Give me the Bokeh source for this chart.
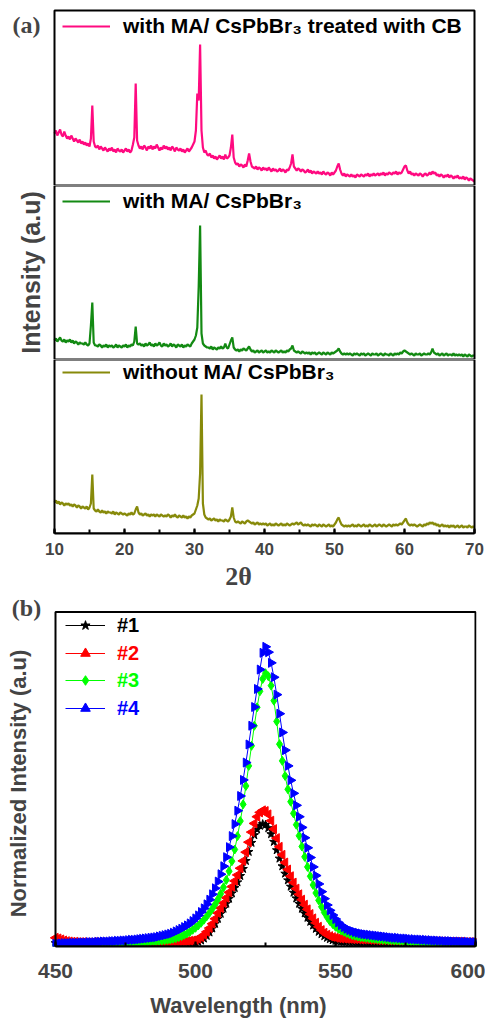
import math
from bokeh.plotting import figure
from bokeh.layouts import column
from bokeh.models import (Range1d, Legend, LegendItem, Label,
                          SingleIntervalTicker, BoxAnnotation)
from bokeh.embed import file_html
from bokeh.resources import INLINE

# ---------------- data: XRD (panel a) ----------------
two_theta = [round(10 + 0.2 * i, 1) for i in range(301)]

xrd_cb = [
    52, 55, 50, 53, 56, 51, 49, 54, 50, 47,
    49, 46, 50, 47, 44, 47, 45, 43, 46, 42,
    44, 41, 43, 40, 42, 39, 47, 80, 44, 39,
    38, 40, 36, 39, 37, 35, 38, 36, 34, 37,
    35, 38, 34, 36, 33, 37, 35, 34, 36, 33,
    35, 37, 34, 36, 33, 35, 41, 48, 102, 45,
    40, 37, 39, 36, 40, 38, 35, 39, 37, 40,
    36, 39, 37, 41, 38, 35, 38, 36, 40, 37,
    39, 36, 38, 35, 39, 37, 34, 38, 36, 35,
    37, 34, 36, 33, 35, 37, 34, 36, 38, 41,
    44, 55, 92, 85, 141, 55, 38, 33, 35, 31,
    30, 32, 28, 30, 27, 29, 26, 28, 30, 27,
    29, 26, 31, 27, 28, 30, 38, 51, 28, 23,
    21, 22, 19, 21, 20, 18, 21, 19, 25, 32,
    24, 19, 18, 17, 19, 16, 18, 17, 15, 18,
    16, 17, 15, 18, 16, 14, 17, 15, 16, 14,
    15, 17, 14, 16, 15, 13, 16, 15, 18, 22,
    31, 19, 17, 15, 17, 16, 14, 16, 15, 13,
    14, 16, 13, 15, 12, 14, 13, 12, 14, 12,
    13, 11, 14, 12, 11, 13, 12, 10, 13, 11,
    13, 15, 19, 22, 16, 12, 10, 12, 9, 11,
    10, 9, 11, 9, 10, 8, 11, 10, 9, 11,
    10, 9, 11, 10, 12, 9, 11, 10, 12, 10,
    11, 12, 10, 12, 11, 13, 10, 12, 11, 13,
    12, 11, 13, 12, 14, 11, 13, 12, 13, 16,
    19, 20, 15, 12, 14, 11, 12, 10, 12, 11,
    10, 12, 11, 9, 11, 12, 10, 11, 13, 11,
    14, 12, 13, 10, 11, 9, 11, 10, 8, 10,
    9, 11, 8, 10, 9, 7, 9, 8, 10, 7,
    8, 7, 9, 6, 8, 7, 5, 7, 6, 5,
    4,
]

xrd_ma = [
    19, 21, 18, 20, 22, 19, 18, 20, 17, 19,
    18, 20, 17, 19, 16, 18, 17, 15, 17, 16,
    16, 15, 17, 15, 14, 16, 34, 57, 17, 14,
    14, 13, 15, 14, 12, 14, 13, 15, 12, 14,
    13, 14, 12, 13, 15, 12, 14, 13, 12, 14,
    13, 15, 12, 14, 13, 15, 14, 18, 33, 16,
    15, 16, 14, 15, 13, 16, 14, 15, 17, 14,
    15, 13, 16, 14, 15, 17, 14, 13, 16, 14,
    15, 13, 14, 16, 13, 15, 14, 12, 15, 14,
    13, 15, 12, 14, 13, 15, 14, 13, 16, 18,
    20, 24, 32, 73, 134, 26, 16, 14, 13, 12,
    12, 11, 13, 10, 12, 11, 10, 12, 11, 13,
    11, 12, 16, 12, 11, 15, 19, 22, 12, 10,
    9, 10, 8, 10, 9, 11, 10, 9, 11, 13,
    10, 8, 9, 7, 8, 9, 7, 8, 9, 7,
    8, 9, 7, 8, 7, 9, 8, 7, 9, 8,
    7, 8, 9, 7, 8, 7, 9, 8, 10, 11,
    14, 9, 8, 7, 8, 7, 6, 8, 7, 6,
    7, 6, 7, 5, 7, 6, 7, 5, 6, 7,
    6, 5, 7, 6, 5, 7, 6, 5, 7, 6,
    7, 8, 9, 11, 8, 6, 5, 6, 5, 6,
    5, 6, 5, 4, 6, 5, 6, 5, 4, 6,
    5, 6, 4, 5, 6, 5, 4, 6, 5, 5,
    6, 4, 5, 6, 5, 4, 6, 5, 5, 4,
    6, 5, 4, 6, 5, 6, 5, 7, 6, 8,
    9, 8, 7, 6, 5, 6, 5, 4, 6, 5,
    5, 6, 4, 5, 6, 5, 5, 6, 5, 7,
    11, 7, 6, 5, 6, 4, 5, 6, 4, 5,
    6, 4, 5, 5, 4, 6, 4, 5, 4, 5,
    4, 5, 3, 5, 4, 3, 5, 4, 3, 4,
    4,
]

xrd_none = [
    31, 33, 30, 32, 29, 31, 30, 28, 30, 29,
    30, 28, 29, 27, 29, 28, 26, 28, 27, 25,
    27, 26, 25, 27, 24, 26, 30, 59, 25, 23,
    22, 24, 22, 21, 23, 21, 22, 20, 22, 21,
    21, 20, 22, 19, 21, 20, 19, 21, 20, 19,
    20, 19, 18, 20, 19, 21, 19, 20, 24, 27,
    21, 19, 20, 18, 19, 20, 18, 19, 17, 19,
    18, 19, 17, 19, 18, 17, 19, 18, 17, 18,
    17, 19, 18, 16, 18, 17, 19, 17, 16, 18,
    17, 16, 18, 16, 17, 15, 17, 16, 18, 19,
    20, 24, 28, 35, 60, 139, 30, 19, 16, 15,
    14, 15, 13, 14, 15, 13, 14, 12, 14, 13,
    13, 12, 14, 13, 12, 14, 17, 26, 16, 12,
    11, 12, 11, 10, 12, 11, 10, 12, 13, 12,
    11, 10, 11, 9, 10, 11, 9, 10, 9, 10,
    9, 10, 8, 9, 10, 8, 9, 8, 10, 9,
    8, 9, 10, 8, 9, 8, 10, 9, 8, 9,
    10, 9, 10, 11, 9, 10, 11, 9, 8, 9,
    8, 9, 8, 7, 9, 8, 9, 8, 7, 9,
    8, 7, 9, 8, 7, 8, 9, 7, 8, 7,
    9, 11, 14, 16, 12, 9, 8, 7, 8, 7,
    8, 7, 8, 9, 7, 8, 7, 9, 8, 7,
    8, 9, 7, 8, 7, 9, 8, 7, 8, 9,
    7, 8, 9, 8, 7, 9, 8, 7, 8, 9,
    8, 7, 9, 8, 9, 8, 9, 10, 9, 11,
    13, 15, 11, 9, 8, 9, 8, 9, 8, 7,
    8, 9, 8, 7, 9, 8, 10, 9, 11, 10,
    11, 9, 10, 8, 9, 7, 8, 9, 7, 8,
    7, 8, 6, 8, 7, 8, 6, 7, 8, 6,
    7, 8, 6, 7, 7, 6, 8, 7, 6, 7,
    6,
]

xrd_labels = ["with MA/ CsPbBr\u2083 treated with CB",
              "with MA/ CsPbBr\u2083",
              "without MA/ CsPbBr\u2083"]
xrd_colors = ["#FF0A80", "#138A13", "#878A0A"]

# ---------------- data: PL (panel b) ----------------
wavelength = list(range(450, 601))

pl_1 = [
    1.0, 1.0, 0.9, 0.9, 0.9, 0.9, 0.9, 0.9, 0.9, 0.9,
    0.9, 0.9, 0.9, 0.9, 0.9, 0.9, 0.9, 0.9, 0.9, 0.9,
    0.9, 0.9, 0.9, 0.9, 0.9, 0.9, 0.9, 0.9, 0.9, 0.9,
    0.9, 0.9, 0.9, 0.9, 0.9, 0.9, 0.9, 0.9, 0.9, 0.9,
    0.9, 0.9, 0.9, 0.9, 0.9, 1.0, 1.0, 1.0, 1.0, 1.1,
    1.2, 1.4, 1.8, 2.4, 3.2, 4.2, 5.4, 6.8, 8.3, 9.8,
    11.3, 12.8, 14.3, 15.9, 17.5, 19.2, 21.1, 23.2, 25.6, 28.3,
    31.0, 33.3, 35.0, 36.1, 36.6, 36.4, 35.4, 33.6, 31.3, 28.8,
    26.3, 24.0, 21.8, 19.8, 17.9, 16.1, 14.4, 12.8, 11.3, 9.9,
    8.6, 7.4, 6.3, 5.3, 4.4, 3.7, 3.1, 2.6, 2.2, 1.9,
    1.7, 1.6, 1.5, 1.4, 1.4, 1.3, 1.3, 1.3, 1.2, 1.2,
    1.2, 1.2, 1.2, 1.2, 1.1, 1.1, 1.1, 1.1, 1.1, 1.1,
    1.1, 1.1, 1.1, 1.1, 1.1, 1.0, 1.0, 1.0, 1.0, 1.0,
    1.0, 1.0, 1.0, 1.0, 1.0, 1.0, 1.0, 1.0, 1.0, 1.0,
    1.0, 1.0, 1.0, 1.0, 1.0, 1.0, 1.0, 1.0, 1.0, 1.0,
    1.0,
]

pl_2 = [
    2.6, 2.4, 2.1, 1.8, 1.6, 1.5, 1.4, 1.4, 1.3, 1.3,
    1.3, 1.2, 1.2, 1.2, 1.3, 1.2, 1.2, 1.2, 1.2, 1.2,
    1.2, 1.2, 1.2, 1.2, 1.2, 1.2, 1.2, 1.2, 1.2, 1.2,
    1.2, 1.2, 1.2, 1.2, 1.2, 1.2, 1.3, 1.3, 1.3, 1.3,
    1.3, 1.3, 1.4, 1.4, 1.4, 1.5, 1.5, 1.6, 1.7, 1.8,
    2.0, 2.3, 2.8, 3.5, 4.4, 5.5, 6.8, 8.3, 10.0, 11.5,
    13.0, 14.6, 16.2, 17.9, 19.6, 21.4, 23.4, 25.6, 28.2, 31.2,
    34.2, 36.8, 38.8, 40.1, 40.7, 40.5, 39.5, 37.6, 35.1, 32.4,
    29.8, 27.4, 25.1, 23.0, 21.0, 19.1, 17.3, 15.6, 14.0, 12.5,
    11.1, 9.7, 8.4, 7.1, 5.9, 4.9, 4.1, 3.5, 3.1, 2.8,
    2.6, 2.5, 2.4, 2.4, 2.3, 2.3, 2.2, 2.2, 2.2, 2.1,
    2.1, 2.1, 2.0, 2.0, 2.0, 1.9, 1.9, 1.9, 1.9, 1.8,
    1.8, 1.8, 1.8, 1.7, 1.7, 1.7, 1.7, 1.7, 1.6, 1.6,
    1.6, 1.6, 1.6, 1.5, 1.5, 1.5, 1.5, 1.5, 1.5, 1.4,
    1.4, 1.4, 1.4, 1.4, 1.4, 1.4, 1.3, 1.3, 1.3, 1.3,
    1.3,
]

pl_3 = [
    0.5, 0.5, 0.5, 0.6, 0.6, 0.6, 0.6, 0.7, 0.7, 0.7,
    0.7, 0.8, 0.8, 0.8, 0.8, 0.9, 0.9, 0.9, 1.0, 1.0,
    1.0, 1.0, 1.1, 1.1, 1.1, 1.2, 1.2, 1.2, 1.3, 1.3,
    1.3, 1.4, 1.4, 1.5, 1.5, 1.6, 1.6, 1.7, 1.8, 1.9,
    2.0, 2.1, 2.3, 2.5, 2.8, 3.1, 3.5, 3.9, 4.4, 5.0,
    5.6, 6.3, 7.1, 8.0, 9.0, 10.1, 11.3, 12.6, 14.1, 15.8,
    17.7, 19.9, 22.5, 25.5, 29.0, 33.0, 37.5, 42.5, 48.0, 54.0,
    60.0, 66.0, 71.5, 76.3, 80.0, 81.7, 80.8, 78.0, 73.5, 67.3,
    60.5, 55.5, 51.0, 47.0, 43.3, 39.8, 36.4, 33.1, 29.9, 26.8,
    23.8, 21.0, 18.4, 16.0, 13.8, 11.9, 10.2, 8.8, 7.6, 6.7,
    5.9, 5.3, 4.8, 4.4, 4.0, 3.7, 3.4, 3.2, 3.0, 2.8,
    2.7, 2.6, 2.5, 2.4, 2.3, 2.2, 2.1, 2.0, 2.0, 1.9,
    1.9, 1.8, 1.8, 1.7, 1.7, 1.6, 1.6, 1.5, 1.5, 1.5,
    1.4, 1.4, 1.4, 1.3, 1.3, 1.3, 1.2, 1.2, 1.2, 1.2,
    1.1, 1.1, 1.1, 1.1, 1.0, 1.0, 1.0, 1.0, 1.0, 0.9,
    0.9,
]

pl_4 = [
    0.8, 0.9, 0.9, 1.0, 1.0, 1.0, 1.1, 1.1, 1.1, 1.2,
    1.2, 1.2, 1.3, 1.3, 1.3, 1.4, 1.4, 1.5, 1.5, 1.5,
    1.6, 1.6, 1.7, 1.7, 1.8, 1.8, 1.9, 2.0, 2.0, 2.1,
    2.2, 2.3, 2.4, 2.5, 2.6, 2.7, 2.8, 3.0, 3.2, 3.4,
    3.6, 3.8, 4.1, 4.5, 4.9, 5.3, 5.8, 6.3, 6.9, 7.6,
    8.4, 9.3, 10.3, 11.4, 12.6, 14.0, 15.6, 17.4, 19.4, 21.6,
    24.0, 26.7, 29.7, 33.0, 36.6, 40.6, 45.0, 49.8, 55.0, 60.4,
    66.0, 71.6, 77.0, 82.8, 87.8, 89.6, 88.0, 84.8, 80.5, 75.3,
    69.6, 64.0, 58.7, 54.0, 49.7, 45.8, 42.2, 38.8, 35.6, 32.5,
    29.5, 26.6, 23.8, 21.2, 18.7, 16.4, 14.3, 12.4, 10.8, 9.4,
    8.2, 7.2, 6.4, 5.8, 5.3, 4.9, 4.6, 4.3, 4.1, 3.9,
    3.7, 3.6, 3.5, 3.4, 3.3, 3.2, 3.1, 3.0, 2.9, 2.8,
    2.7, 2.6, 2.6, 2.5, 2.4, 2.4, 2.3, 2.2, 2.2, 2.1,
    2.1, 2.0, 2.0, 1.9, 1.9, 1.8, 1.8, 1.7, 1.7, 1.6,
    1.6, 1.6, 1.5, 1.5, 1.5, 1.4, 1.4, 1.4, 1.3, 1.3,
    1.3,
]

pl_labels = ["#1", "#2", "#3", "#4"]
pl_colors = ["#000000", "#FF0000", "#00FF00", "#0000FF"]
pl_markers = ["star", "triangle", "diamond", "triangle"]
pl_angles = [0.0, math.pi / 2, 0.0, -math.pi / 2]

SANS = "Liberation Sans"
SERIF = "Liberation Serif"

# axis limits of the two panels
XRD_X = (10, 70)
XRD_Y = [175, 174, 174]
PL_X = (450, 600)
PL_Y = (0, 100)

# every frame spans the full canvas width (0..476 px) so that the panel tags
# and titles in the left margin can be drawn; the visible boxes are drawn at
# the axis limits
W = 485
FRAME_R = 476


def base_fig(height, bottom, x_range, y_range):
    p = figure(width=W, height=height, x_range=x_range, y_range=y_range,
               output_backend="svg", toolbar_location=None,
               min_border_left=0, min_border_right=W - FRAME_R,
               min_border_top=0, min_border_bottom=bottom)
    p.grid.visible = False
    p.outline_line_color = None
    p.background_fill_color = "white"
    p.border_fill_color = "white"
    p.yaxis.visible = False
    return p


def plain_legend(items, location, **kw):
    opts = dict(border_line_color=None, background_fill_alpha=0,
                padding=0, margin=0, spacing=0, orientation="vertical",
                label_text_font=SANS, label_text_font_style="bold")
    opts.update(kw)
    return Legend(items=items, location=location, **opts)


def frame_box(x0, x1, y0, y1):
    return BoxAnnotation(left=x0, right=x1, bottom=y0, top=y1,
                         fill_alpha=0, fill_color=None, line_color="black",
                         line_width=2, line_alpha=1)


def style_xaxis(axis, bounds, interval, label, label_font, label_size,
                tick_size, tick_standoff, label_standoff):
    axis.bounds = bounds
    axis.ticker = SingleIntervalTicker(interval=interval, num_minor_ticks=2)
    axis.major_tick_in = 5
    axis.major_tick_out = 0
    axis.minor_tick_in = 4
    axis.minor_tick_out = 0
    axis.major_tick_line_width = 2
    axis.minor_tick_line_width = 2
    axis.axis_line_width = 2
    axis.major_label_text_font = SANS
    axis.major_label_text_font_style = "bold"
    axis.major_label_text_font_size = tick_size
    axis.major_label_standoff = tick_standoff
    axis.axis_label = label
    axis.axis_label_text_font = label_font
    axis.axis_label_text_font_style = "bold"
    axis.axis_label_text_font_size = label_size
    axis.axis_label_standoff = label_standoff


# ---------------- panel (a) ----------------
PX_A = 7.0  # pixels per degree
a_xr = Range1d(XRD_X[0] - 54 / PX_A, XRD_X[1] + (FRAME_R - 474) / PX_A)

a_heights = [185, 174, 236]
a_tops = [10, 0, 0]
a_bottoms = [0, 0, 62]
a_series = [xrd_cb, xrd_ma, xrd_none]
a_leg_vy = [147, 146, 149]
figs_a = []
for i in range(3):
    p = base_fig(a_heights[i], a_bottoms[i], a_xr,
                 Range1d(0, XRD_Y[i] + a_tops[i]))
    r = p.line(two_theta, a_series[i], line_color=xrd_colors[i], line_width=2.2)
    p.add_layout(frame_box(XRD_X[0], XRD_X[1], 0, XRD_Y[i]))
    p.add_layout(plain_legend(
        [LegendItem(label=xrd_labels[i], renderers=[r])], (62, a_leg_vy[i]),
        glyph_width=48, glyph_height=22, label_height=22, label_standoff=13,
        label_text_font_size="21px", label_text_color="black"))
    figs_a.append(p)

a1, a2, a3 = figs_a
a1.xaxis.visible = False
a2.xaxis.visible = False

a1.add_layout(Label(x=26, y=161, x_units="screen", y_units="screen",
                    text="(a)", text_font=SERIF, text_font_style="bold",
                    text_font_size="24px", text_align="center",
                    text_baseline="middle"))
a2.add_layout(Label(x=30, y=87, x_units="screen", y_units="screen",
                    text="Intensity (a.u)", angle=math.pi / 2,
                    text_font=SANS, text_font_style="bold",
                    text_font_size="25px", text_align="center",
                    text_baseline="middle"))

style_xaxis(a3.xaxis[0], XRD_X, 10, "2\u03b8", SERIF, "26px", "17px", 9, 4)

# ---------------- panel (b) ----------------
PX_B = 2.8    # pixels per nm
PY_B = 3.44   # pixels per unit
b_xr = Range1d(PL_X[0] - 55 / PX_B, PL_X[1] + (FRAME_R - 475) / PX_B)
b_yr = Range1d(PL_Y[0], PL_Y[1] + 17 / PY_B)
b = base_fig(425, 66, b_xr, b_yr)
pl_series = [pl_1, pl_2, pl_3, pl_4]
rend = []
for i in range(4):
    rl = b.line(wavelength, pl_series[i], line_color=pl_colors[i], line_width=1)
    rs = b.scatter(wavelength, pl_series[i], marker=pl_markers[i],
                   size=9, angle=pl_angles[i], fill_color=pl_colors[i],
                   line_color=pl_colors[i])
    rend.append((rl, rs))
b.add_layout(frame_box(PL_X[0], PL_X[1], PL_Y[0], PL_Y[1]))

for i in range(4):
    cy = 321 - 27.7 * i
    b.add_layout(plain_legend(
        [LegendItem(label=pl_labels[i], renderers=list(rend[i]))],
        (65, int(round(cy - 12))),
        glyph_width=40, glyph_height=24, label_height=24, label_standoff=12,
        label_text_font_size="20px", label_text_color=pl_colors[i]))

style_xaxis(b.xaxis[0], PL_X, 50, "Wavelength (nm)", SANS, "22px", "21px",
            17, 12)

b.add_layout(Label(x=18, y=163, x_units="screen", y_units="screen",
                   text="Normalized Intensity (a.u)", angle=math.pi / 2,
                   text_font=SANS, text_font_style="bold",
                   text_font_size="22px", text_align="center",
                   text_baseline="middle"))
b.add_layout(Label(x=26, y=339, x_units="screen", y_units="screen",
                   text="(b)", text_font=SERIF, text_font_style="bold",
                   text_font_size="24px", text_align="center",
                   text_baseline="middle"))

layout = column(a1, a2, a3, b, spacing=0)
open("out.html", "w").write(file_html(layout, INLINE))
